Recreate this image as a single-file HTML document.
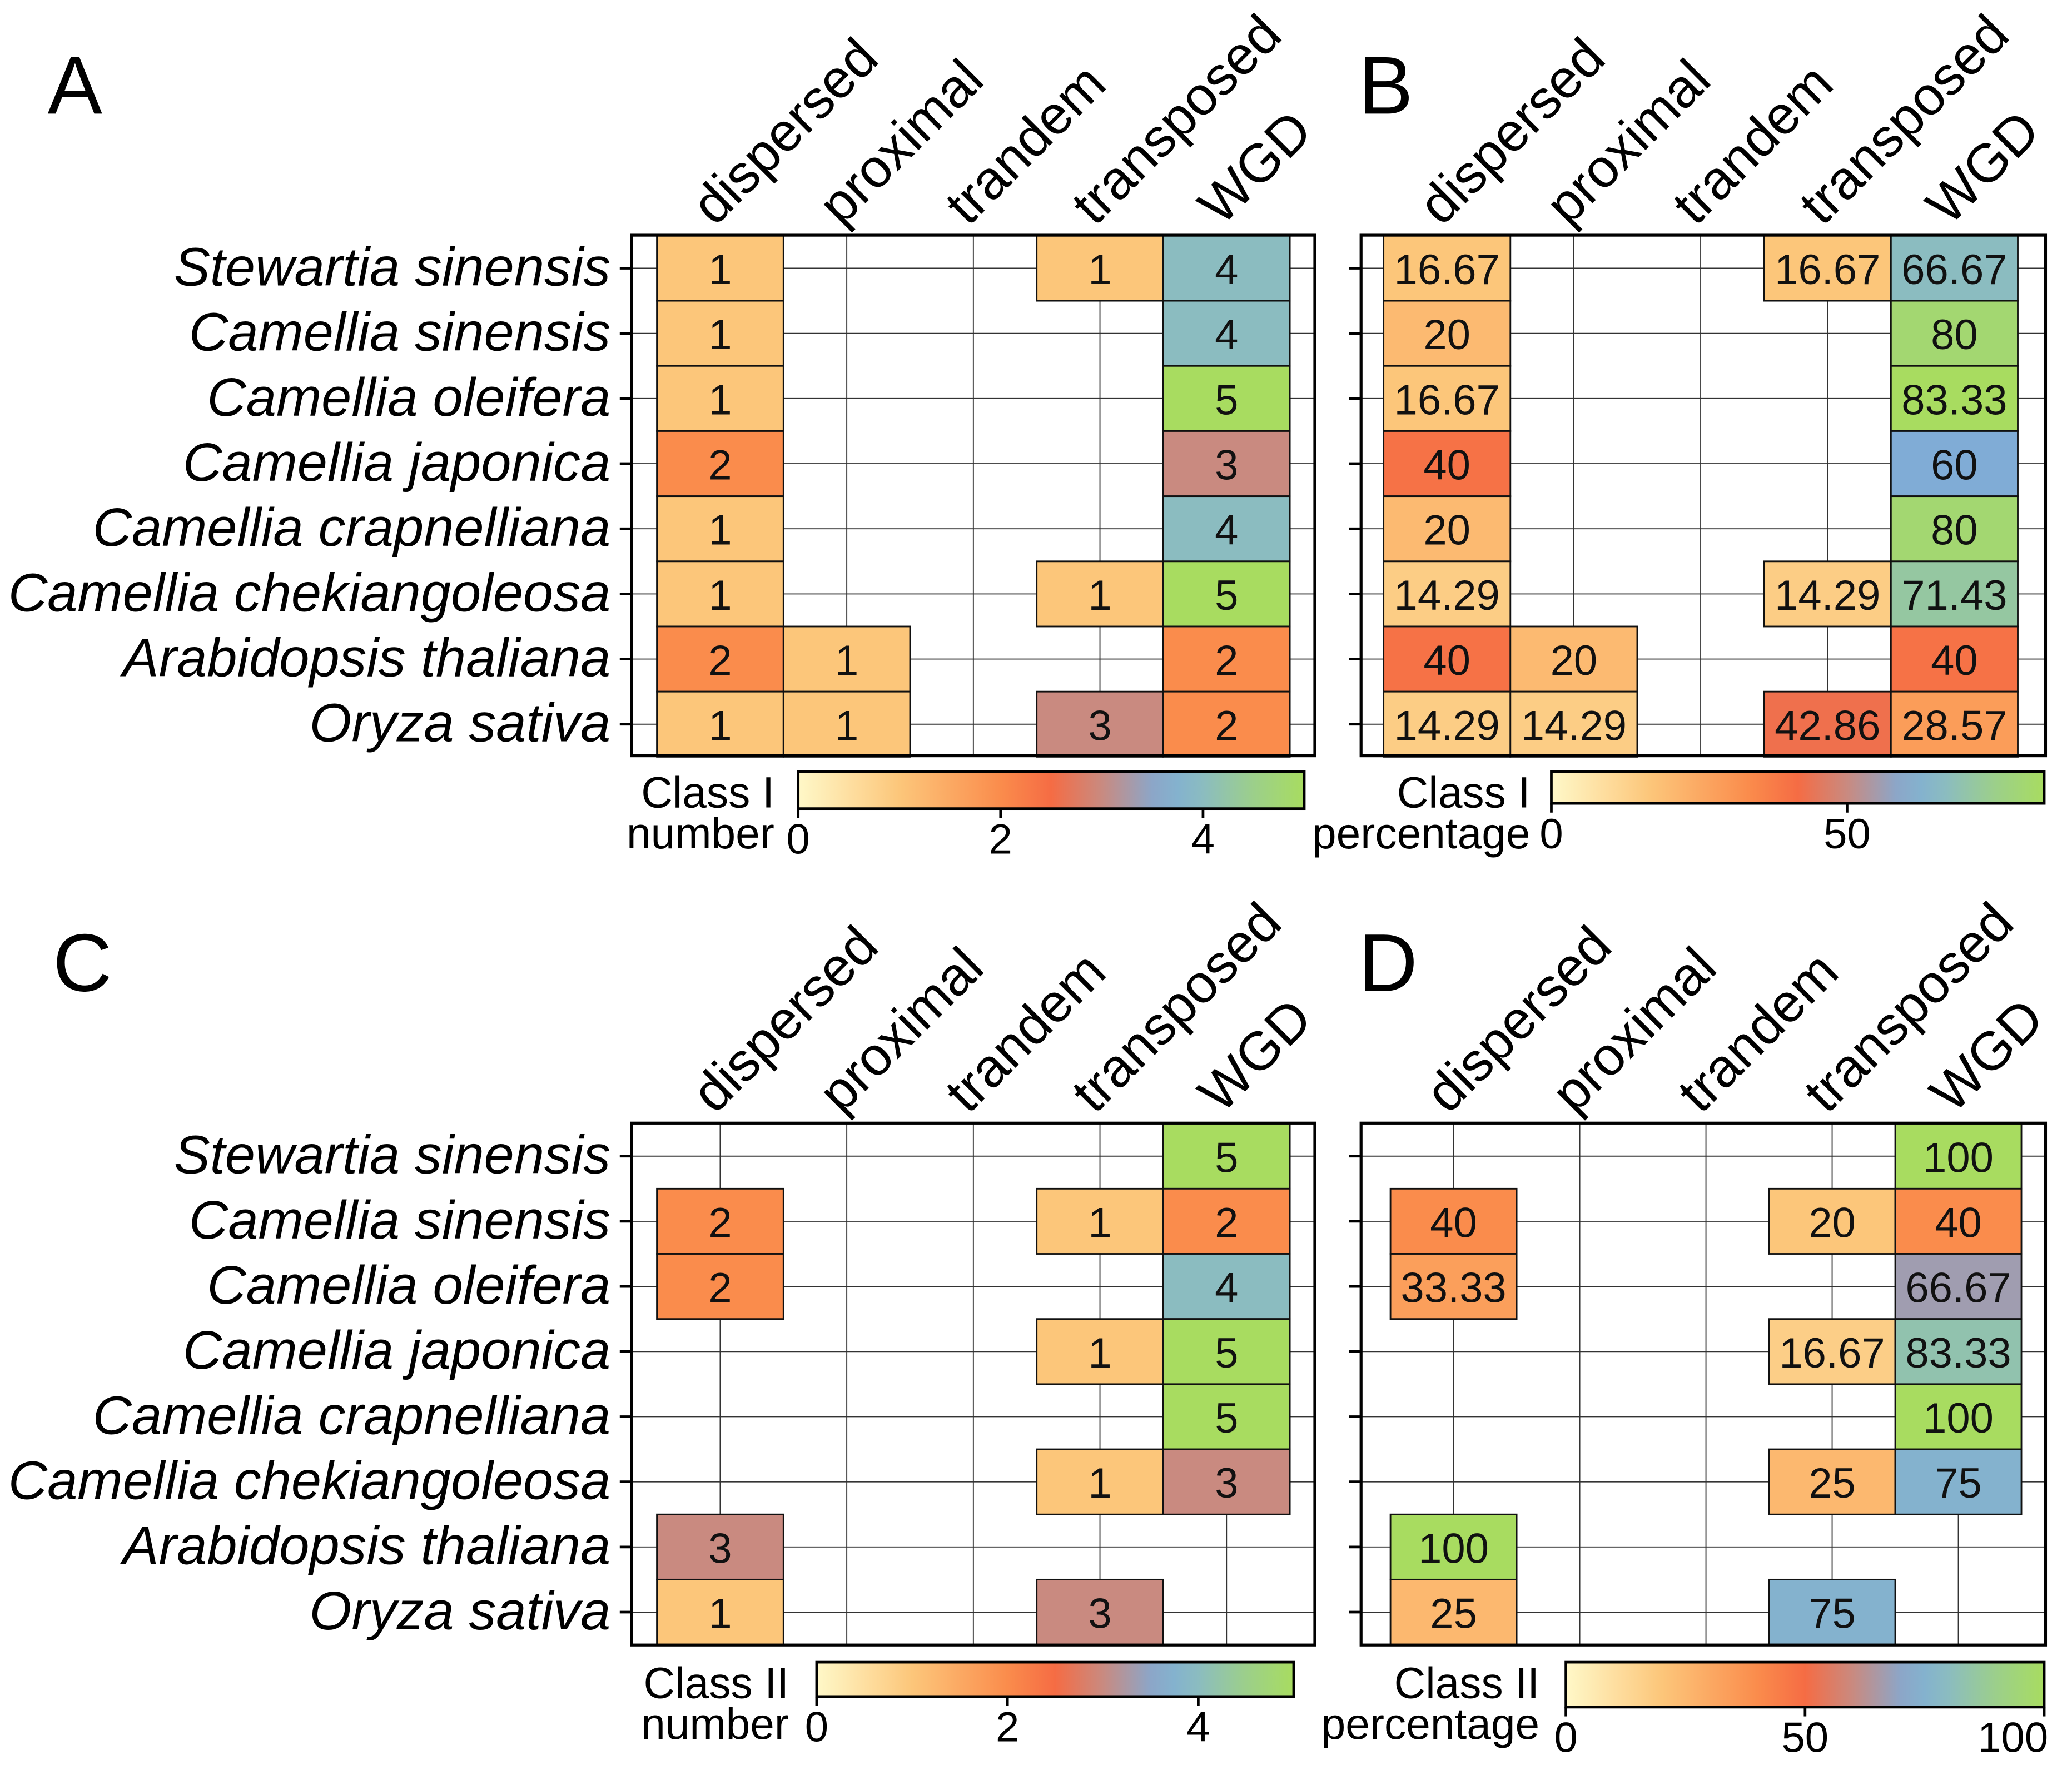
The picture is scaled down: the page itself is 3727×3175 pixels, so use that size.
<!DOCTYPE html>
<html><head><meta charset="utf-8">
<style>
html,body{margin:0;padding:0;background:#fff;}
svg{display:block;font-family:"Liberation Sans",Arial,sans-serif;}
</style></head>
<body>
<svg id="fig" xmlns="http://www.w3.org/2000/svg" width="3727" height="3175" viewBox="0 0 1568 1335.8">
<rect width="1568" height="1336" fill="#fff"/>
</svg>
<script>
const species = ["Stewartia sinensis","Camellia sinensis","Camellia oleifera","Camellia japonica","Camellia crapnelliana","Camellia chekiangoleosa","Arabidopsis thaliana","Oryza sativa"];
const categories = ["dispersed","proximal","trandem","transposed","WGD"];
const classINumber = [
 [1,null,null,1,4],[1,null,null,null,4],[1,null,null,null,5],[2,null,null,null,3],
 [1,null,null,null,4],[1,null,null,1,5],[2,1,null,null,2],[1,1,null,3,2]];
const classIPercent = [
 [16.67,null,null,16.67,66.67],[20,null,null,null,80],[16.67,null,null,null,83.33],[40,null,null,null,60],
 [20,null,null,null,80],[14.29,null,null,14.29,71.43],[40,20,null,null,40],[14.29,14.29,null,42.86,28.57]];
const classIINumber = [
 [null,null,null,null,5],[2,null,null,1,2],[2,null,null,null,4],[null,null,null,1,5],
 [null,null,null,null,5],[null,null,null,1,3],[3,null,null,null,null],[1,null,null,3,null]];
const classIIPercent = [
 [null,null,null,null,100],[40,null,null,20,40],[33.33,null,null,null,66.67],[null,null,null,16.67,83.33],
 [null,null,null,null,100],[null,null,null,25,75],[100,null,null,null,null],[25,null,null,75,null]];
const ticksNumber = [0,2,4];
const ticksPctB = [0,50];
const ticksPctD = [0,50,100];

const stops=[[0,[255,248,200]],[0.2,[252,198,122]],[0.4,[250,140,76]],[0.5,[245,108,68]],[0.6,[201,138,128]],[0.72,[128,172,214]],[0.8,[139,188,192]],[0.9,[156,207,138]],[1,[168,220,96]]];
function cmap(t){t=Math.max(0,Math.min(1,t));for(let i=1;i<stops.length;i++){if(t<=stops[i][0]){const a=stops[i-1],b=stops[i];const f=(t-a[0])/(b[0]-a[0]);const c=a[1].map((v,k)=>Math.round(v+(b[1][k]-v)*f));return `rgb(${c})`;}}return 'rgb(168,220,96)';}

const NS="http://www.w3.org/2000/svg";
const svg=document.getElementById('fig');
function el(tag,attrs,parent){const e=document.createElementNS(NS,tag);for(const k in attrs)e.setAttribute(k,attrs[k]);(parent||svg).appendChild(e);return e;}
function fmt(v){return Number.isInteger(v)?String(v):v.toFixed(2);}

function panel(cfg){
  const g=el('g',{});
  
  
  const L=el('text',{x:cfg.lx,y:cfg.ly,'font-size':62},g);L.textContent=cfg.letter;
  
  
  const nr=species.length, nc=categories.length;
  const xs=i=>cfg.c0+i*cfg.cw;
  const ys=j=>cfg.r0+j*cfg.rh;
  for(let i=0;i<nc;i++) el('line',{x1:xs(i),x2:xs(i),y1:cfg.by0,y2:cfg.by1,stroke:'#333','stroke-width':0.8},g);
  for(let j=0;j<nr;j++) el('line',{x1:cfg.bx0,x2:cfg.bx1,y1:ys(j),y2:ys(j),stroke:'#333','stroke-width':0.8},g);
  const vmax=cfg.vmax;
  cfg.data.forEach((row,j)=>row.forEach((v,i)=>{
    if(v===null)return;
    const r=el('rect',{x:xs(i)-cfg.cw/2,y:ys(j)-cfg.rh/2,width:cfg.cw,height:cfg.rh,fill:cmap(v/vmax),stroke:'#111','stroke-width':1.2},g);
    
    
    const t=el('text',{x:xs(i),y:ys(j)+12,'font-size':32,'text-anchor':'middle',fill:'#111'},g);t.textContent=fmt(v);
    
    
  }));
  const box=el('rect',{x:cfg.bx0,y:cfg.by0,width:cfg.bx1-cfg.bx0,height:cfg.by1-cfg.by0,fill:'none',stroke:'#000','stroke-width':2.2},g);
  
  
  species.forEach((s,j)=>{
    el('line',{x1:cfg.bx0-9,x2:cfg.bx0,y1:ys(j),y2:ys(j),stroke:'#000','stroke-width':2},g);
    if(cfg.ylabels){const t=el('text',{x:cfg.bx0-16,y:ys(j)+13,'font-size':41,'font-style':'italic','text-anchor':'end'},g);t.textContent=s;
      
      }
  });
  categories.forEach((c,i)=>{
    const x=xs(i)-4,y=cfg.by0-6;
    const t=el('text',{x:x,y:y,'font-size':41,transform:`rotate(-45 ${x} ${y})`},g);t.textContent=c;
    
    
  });
  const cb=cfg.cb;const gid='grad'+cfg.letter;
  const defs=el('defs',{},g);const lg=el('linearGradient',{id:gid,x1:0,x2:1,y1:0,y2:0},defs);
  for(let k=0;k<=20;k++)el('stop',{offset:k/20,'stop-color':cmap(k/20)},lg);
  const cr=el('rect',{x:cb.x0,y:cb.y0,width:cb.x1-cb.x0,height:cb.y1-cb.y0,fill:`url(#${gid})`,stroke:'#000','stroke-width':2},g);
  
  
  cfg.ticks.forEach(tv=>{
    const x=cb.x0+(cb.x1-cb.x0)*tv/vmax;
    el('line',{x1:x,x2:x,y1:cb.y1,y2:cb.y1+7,stroke:'#000','stroke-width':2},g);
    const over=x+20>1560;
    const t=el('text',{x:over?x+3:x,y:cb.y1+34,'font-size':32,'text-anchor':over?'end':'middle'},g);t.textContent=tv;
    
    
  });
  const l1=el('text',{x:cfg.labX,y:cb.y0+27,'font-size':33,'text-anchor':'end'},g);l1.textContent=cfg.lab1;
  
  
  const l2=el('text',{x:cfg.labX,y:cb.y0+58,'font-size':33,'text-anchor':'end'},g);l2.textContent=cfg.lab2;
  
  
}
panel({letter:'A',lx:36,ly:86,data:classINumber,vmax:5,ticks:ticksNumber,ylabels:true,
 c0:545,cw:95.8,r0:203,rh:49.3,bx0:478,bx1:995,by0:178,by1:572,
 cb:{x0:604,x1:987,y0:584,y1:612},labX:586,lab1:'Class I',lab2:'number'});
panel({letter:'B',lx:1028,ly:86,data:classIPercent,vmax:83.33,ticks:ticksPctB,ylabels:false,
 c0:1095,cw:96,r0:203,rh:49.3,bx0:1030,bx1:1548,by0:178,by1:572,
 cb:{x0:1174,x1:1547,y0:584,y1:608},labX:1158,lab1:'Class I',lab2:'percentage'});
panel({letter:'C',lx:40,ly:750,data:classIINumber,vmax:5,ticks:ticksNumber,ylabels:true,
 c0:545,cw:95.8,r0:875,rh:49.3,bx0:478,bx1:995,by0:850,by1:1245,
 cb:{x0:618,x1:979,y0:1258,y1:1284},labX:597,lab1:'Class II',lab2:'number'});
panel({letter:'D',lx:1028,ly:750,data:classIIPercent,vmax:100,ticks:ticksPctD,ylabels:false,
 c0:1100,cw:95.5,r0:875,rh:49.3,bx0:1030,bx1:1548,by0:850,by1:1245,
 cb:{x0:1185,x1:1547,y0:1258,y1:1292},labX:1165,lab1:'Class II',lab2:'percentage'});
</script>
</body></html>
